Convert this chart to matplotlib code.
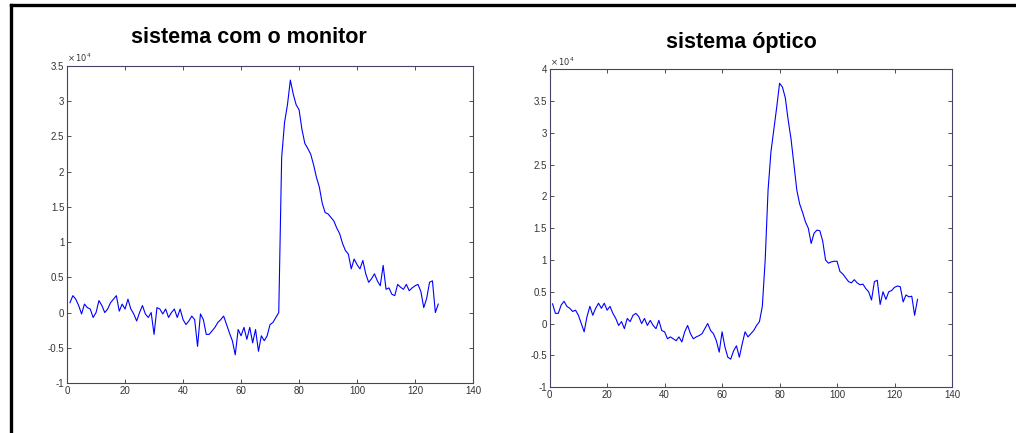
import matplotlib
matplotlib.use('Agg')
import matplotlib.pyplot as plt
from matplotlib.lines import Line2D
import numpy as np

# amostras 1..128, valores em unidades de 10^4
amostras = np.arange(1, 129)

monitor = [0.14, 0.24, 0.19, 0.10, -0.02, 0.12, 0.07, 0.05, -0.07, 0.00,
           0.17, 0.10, 0.00, 0.05, 0.14, 0.19, 0.24, 0.02, 0.12, 0.05,
           0.19, 0.05, -0.02, -0.12, 0.00, 0.10, -0.02, -0.07, 0.00, -0.31,
           0.07, 0.05, -0.02, 0.05, -0.07, 0.00, 0.05, -0.07, 0.05, -0.10,
           -0.17, -0.12, -0.05, -0.10, -0.48, -0.02, -0.10, -0.31, -0.31, -0.26,
           -0.21, -0.14, -0.10, -0.05, -0.17, -0.29, -0.40, -0.60, -0.24, -0.33,
           -0.21, -0.38, -0.21, -0.43, -0.24, -0.55, -0.33, -0.40, -0.33, -0.17,
           -0.14, -0.07, 0.00, 2.20, 2.70, 2.95, 3.30, 3.10, 2.95, 2.88,
           2.60, 2.40, 2.33, 2.25, 2.10, 1.92, 1.78, 1.55, 1.42, 1.40,
           1.35, 1.30, 1.20, 1.12, 0.98, 0.88, 0.83, 0.62, 0.76, 0.68,
           0.62, 0.74, 0.55, 0.43, 0.48, 0.55, 0.45, 0.38, 0.67, 0.33,
           0.35, 0.26, 0.24, 0.40, 0.36, 0.33, 0.40, 0.31, 0.35, 0.38,
           0.40, 0.30, 0.07, 0.20, 0.43, 0.45, 0.00, 0.12]

optico = [0.31, 0.16, 0.16, 0.29, 0.35, 0.27, 0.24, 0.19, 0.21, 0.13,
          0.00, -0.13, 0.11, 0.27, 0.13, 0.24, 0.32, 0.24, 0.32, 0.21,
          0.27, 0.16, 0.08, -0.03, 0.03, -0.08, 0.08, 0.03, 0.13, 0.16,
          0.11, 0.00, 0.08, -0.03, 0.05, -0.03, -0.08, 0.05, -0.11, -0.13,
          -0.24, -0.21, -0.24, -0.27, -0.21, -0.29, -0.13, -0.03, -0.16, -0.24,
          -0.21, -0.19, -0.16, -0.08, 0.00, -0.11, -0.16, -0.27, -0.45, -0.13,
          -0.37, -0.53, -0.56, -0.43, -0.35, -0.53, -0.32, -0.13, -0.21, -0.16,
          -0.11, -0.03, 0.03, 0.27, 1.00, 2.10, 2.70, 3.05, 3.40, 3.78,
          3.72, 3.55, 3.20, 2.90, 2.50, 2.10, 1.88, 1.75, 1.60, 1.50,
          1.26, 1.42, 1.47, 1.46, 1.30, 1.00, 0.95, 0.97, 0.98, 0.98,
          0.82, 0.78, 0.72, 0.66, 0.64, 0.69, 0.64, 0.61, 0.62, 0.55,
          0.50, 0.37, 0.66, 0.68, 0.30, 0.50, 0.38, 0.50, 0.52, 0.57,
          0.59, 0.58, 0.34, 0.45, 0.42, 0.43, 0.13, 0.38]

titulos = ['sistema com o monitor', 'sistema óptico']
ylims = [(-1, 3.5), (-1, 4)]

plt.rcParams['font.family'] = ['Liberation Sans', 'DejaVu Sans']

fig = plt.figure(figsize=(10.16, 4.33), dpi=100)

ax1 = fig.add_axes([0.066, 0.1155, 0.3996, 0.732])
ax2 = fig.add_axes([0.541, 0.106, 0.396, 0.734])

for ax, serie, lim in zip([ax1, ax2], [monitor, optico], ylims):
    ax.plot(amostras, serie, color='#0000ff', linewidth=0.8)
    ax.set_xlim(0, 140)
    ax.set_ylim(*lim)
    ax.set_xticks(np.arange(0, 141, 20))
    ax.set_yticks(np.arange(lim[0], lim[1] + 0.01, 0.5))
    ax.set_yticklabels(['%g' % v for v in np.arange(lim[0], lim[1] + 0.01, 0.5)])
    ax.tick_params(direction='in', top=True, right=True, length=3, width=0.6,
                   labelsize=7, colors='#333333', pad=2)
    for s in ax.spines.values():
        s.set_linewidth(0.8)
        s.set_color('#444466')
    ax.text(0.0, 1.005, r'$\times\,10^4$', transform=ax.transAxes,
            fontsize=6, color='#333333', va='bottom', ha='left')

fig.text(0.245, 0.913, titulos[0], fontsize=15.5, fontweight='bold', ha='center', va='center')
fig.text(0.73, 0.903, titulos[1], fontsize=15.5, fontweight='bold', ha='center', va='center')

# moldura (linha esquerda e superior)
fig.add_artist(Line2D([0.011, 0.011], [0.0, 0.988], transform=fig.transFigure,
                      color='black', linewidth=2.4))
fig.add_artist(Line2D([0.011, 1.0], [0.988, 0.988], transform=fig.transFigure,
                      color='black', linewidth=2.4))

fig.savefig('out.png', dpi=100)
